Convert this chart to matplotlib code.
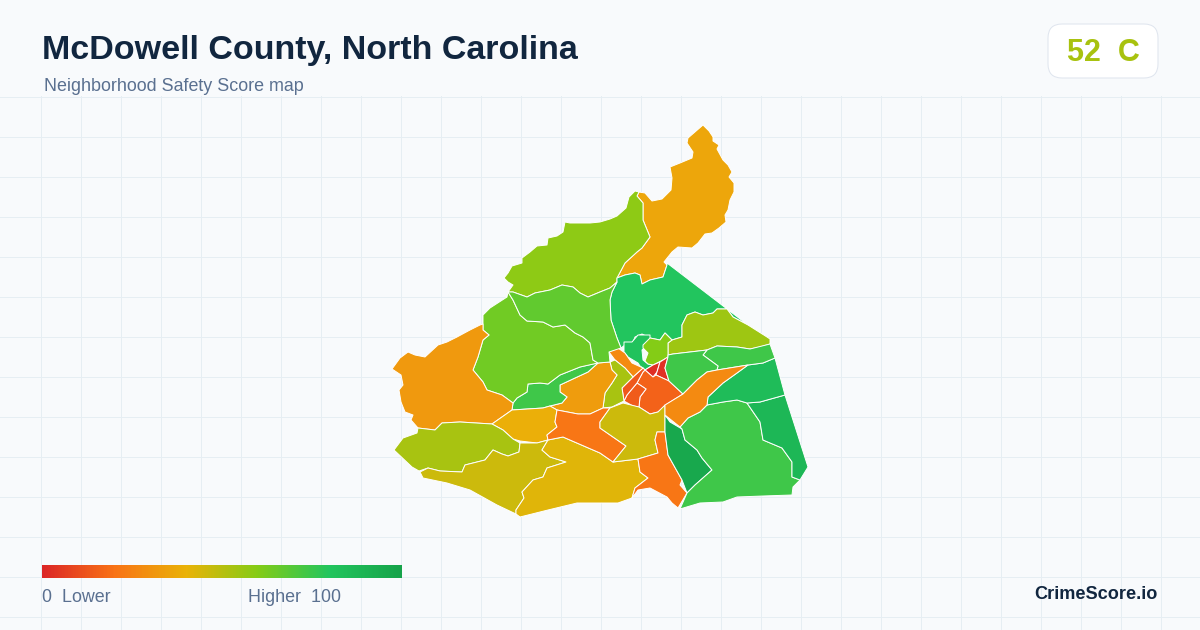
import matplotlib
matplotlib.use("Agg")
import numpy as np
import matplotlib.pyplot as plt
from matplotlib.colors import LinearSegmentedColormap
from matplotlib.patches import Polygon, FancyBboxPatch

plt.rcParams['font.family'] = ['Liberation Sans', 'DejaVu Sans']

title = "McDowell County, North Carolina"
subtitle = "Neighborhood Safety Score map"
badge = "52  C"
brand = "CrimeScore.io"
legend_low = "0  Lower"
legend_high = "Higher  100"

ramp = ["#dc2626", "#f97316", "#eab308", "#84cc16", "#22c55e", "#16a34a"]

# tract outlines (pixel coords) + score per tract
ne_lobe = [(703,125),(709,131),(713,137),(713,141),(719,145),(717,149),(723,160),(728,165),(732,172),(729,177),(734,183),(734,192),(730,200),(728,210),(725,215),(726,222),(719,228),(712,233),(705,234),(698,243),(692,248),(678,247),(672,252),(664,262),(667,265),(663,277),(650,280),(642,284),(640,275),(635,273),(625,275),(617,278),(625,263),(637,252),(642,248),(650,237),(643,220),(643,203),(637,196),(639,192),(645,193),(652,201),(662,199),(671,190),(672,178),(670,167),(680,163),(692,158),(693,152),(687,143),(688,138)]
nw_ridge = [(639,192),(635,191),(629,197),(626,208),(617,216),(610,219),(600,222),(590,223),(580,223),(570,223),(565,222),(563,232),(557,236),(548,238),(547,245),(537,246),(530,252),(522,258),(522,263),(512,266),(508,273),(504,278),(508,282),(513,285),(508,292),(513,292),(527,297),(535,293),(550,290),(562,285),(573,287),(580,293),(588,297),(600,292),(610,288),(617,282),(617,278),(625,263),(637,252),(642,248),(650,237),(643,220),(643,203),(637,196)]
north_central = [(617,278),(625,275),(635,273),(640,275),(642,284),(650,280),(663,277),(667,265),(667,263),(748,325),(733,317),(727,309),(717,309),(713,313),(703,315),(695,312),(687,315),(682,325),(682,337),(672,340),(665,333),(660,340),(650,338),(642,334),(635,337),(633,342),(625,345),(621,348),(617,338),(611,320),(610,300),(612,292),(617,282)]
ne_wedge = [(770,339),(770,344),(760,347),(750,349),(737,347),(717,346),(707,350),(690,352),(673,354),(668,355),(668,343),(672,340),(682,337),(682,325),(687,315),(695,312),(703,315),(713,313),(717,309),(727,309),(733,317),(748,325),(767,337)]
teal_small = [(624,342),(632,342),(638,335),(650,335),(650,342),(642,350),(643,360),(648,364),(653,365),(645,370),(643,368),(640,366),(638,363),(628,357),(624,352)]
lime_small = [(643,345),(650,338),(660,340),(665,333),(672,340),(668,343),(668,357),(663,360),(653,365),(648,364),(645,361),(648,353),(643,348)]
red_west = [(645,370),(653,365),(660,362),(657,372),(653,377)]
red_east = [(660,362),(668,357),(665,368),(669,381),(656,375),(657,372)]
core_east = [(637,383),(643,372),(645,370),(653,377),(656,375),(669,381),(683,394),(667,404),(658,412),(650,414),(639,407),(640,397),(646,389)]
core_south = [(624,401),(627,395),(637,383),(646,389),(640,397),(639,407),(633,406)]
core_west = [(622,388),(633,377),(643,368),(645,370),(643,372),(637,383),(627,395),(624,401)]
core_north = [(609,352),(618,348),(625,353),(632,363),(643,368),(633,377),(625,368),(615,360)]
core_lime = [(610,362),(615,360),(625,368),(633,377),(622,388),(624,401),(612,407),(603,408),(605,393),(612,383),(617,375),(612,370)]
mid_orange = [(560,385),(575,378),(588,372),(598,363),(610,362),(612,370),(617,375),(612,383),(605,393),(603,408),(590,414),(578,414),(557,410),(550,406),(562,403),(567,397),(560,392)]
mid_green = [(513,403),(517,398),(527,392),(528,384),(540,383),(548,384),(560,375),(580,367),(597,363),(598,363),(588,372),(575,378),(560,385),(560,392),(567,397),(562,403),(550,406),(543,408),(512,410)]
west_green = [(508,292),(513,300),(520,315),(527,321),(543,322),(553,327),(565,325),(575,333),(583,337),(590,343),(593,360),(598,363),(580,367),(560,375),(548,384),(540,383),(528,384),(527,392),(517,398),(513,403),(502,395),(487,390),(483,382),(473,370),(478,357),(483,340),(489,335),(483,330),(483,315),(490,308),(507,297)]
upper_green = [(508,292),(513,292),(527,297),(535,293),(550,290),(562,285),(573,287),(580,293),(588,297),(600,292),(610,288),(617,282),(612,292),(610,300),(611,320),(617,338),(621,348),(609,352),(610,362),(598,363),(593,360),(590,343),(583,337),(575,333),(565,325),(553,327),(543,322),(527,321),(520,315),(513,300)]
west_orange = [(483,324),(480,325),(470,330),(457,337),(447,342),(438,345),(425,357),(415,355),(408,352),(400,358),(392,369),(401,375),(403,385),(399,390),(401,402),(405,412),(413,415),(411,420),(418,428),(435,430),(442,423),(460,422),(492,424),(512,410),(513,403),(502,395),(487,390),(483,382),(473,370),(478,357),(483,340),(489,335),(483,330)]
south_yellow = [(492,424),(512,410),(543,408),(550,406),(557,410),(555,422),(557,427),(547,435),(548,440),(537,443),(520,441),(513,439),(503,430)]
sw_olive = [(418,428),(435,430),(442,423),(460,422),(492,424),(503,430),(513,439),(520,443),(519,452),(508,456),(502,454),(493,450),(485,460),(465,465),(462,472),(440,471),(428,468),(419,471),(412,467),(394,450),(403,438),(417,433)]
sw_mustard = [(420,472),(428,468),(440,471),(462,472),(465,465),(485,460),(493,450),(502,454),(508,456),(519,452),(520,443),(537,443),(548,440),(542,450),(550,457),(566,462),(547,468),(543,477),(533,480),(522,492),(524,498),(516,510),(516,514),(497,505),(470,490),(447,483),(423,478)]
south_gold = [(516,514),(520,517),(548,510),(577,503),(600,503),(618,503),(632,498),(635,488),(648,478),(640,472),(638,459),(613,462),(600,453),(563,437),(548,440),(542,450),(550,457),(566,462),(547,468),(543,477),(533,480),(522,492),(524,498),(516,510)]
mid_south_orange = [(548,440),(547,435),(557,427),(555,422),(557,410),(578,414),(590,414),(603,408),(610,408),(600,422),(600,428),(626,446),(613,462),(600,453),(563,437)]
center_olive = [(600,422),(610,408),(623,403),(639,407),(650,414),(658,412),(665,405),(665,432),(657,432),(655,440),(658,453),(638,459),(613,462),(626,446),(600,428)]
south_orange = [(657,432),(665,432),(668,455),(682,480),(680,485),(687,493),(678,508),(672,503),(667,497),(650,488),(638,490),(632,498),(635,488),(648,478),(640,472),(638,459),(658,453),(655,440)]
dark_green = [(665,415),(670,422),(682,429),(685,440),(697,450),(702,458),(712,470),(695,485),(687,493),(682,480),(668,455),(665,432)]
se_big = [(680,509),(687,493),(695,485),(712,470),(702,458),(697,450),(685,440),(682,429),(680,427),(688,418),(700,412),(707,405),(723,402),(737,400),(747,403),(760,422),(763,440),(782,448),(792,462),(792,477),(800,480),(793,487),(792,495),(763,496),(737,497),(723,502),(700,503)]
se_edge = [(747,403),(760,402),(785,395),(808,467),(800,480),(792,477),(792,462),(782,448),(763,440),(760,422)]
east_teal = [(707,405),(708,397),(723,383),(737,373),(748,365),(763,363),(775,358),(785,395),(760,402),(747,403),(737,400),(723,402)]
east_green = [(703,355),(707,350),(717,346),(737,347),(750,349),(770,344),(775,358),(763,363),(748,365),(717,370),(718,366)]
center_green = [(668,355),(673,354),(690,352),(707,350),(703,355),(718,366),(717,370),(707,372),(697,380),(683,394),(669,381),(665,368),(668,357)]
corridor = [(665,405),(683,394),(697,380),(707,372),(717,370),(748,365),(737,373),(723,383),(708,397),(707,405),(700,412),(688,418),(680,427),(665,415)]

tracts = [ne_lobe, nw_ridge, north_central, ne_wedge, teal_small, lime_small, red_west, red_east,
          core_east, core_south, core_west, core_north, core_lime, mid_orange, mid_green, west_green,
          upper_green, west_orange, south_yellow, sw_olive, sw_mustard, south_gold, mid_south_orange,
          center_olive, south_orange, dark_green, se_big, se_edge, east_teal, east_green, center_green,
          corridor]
scores = [36, 58, 80, 55, 82, 60, 2, 3,
          16, 14, 13, 27, 53, 33, 74, 64,
          67, 32, 39, 53, 46, 42, 21,
          46, 21, 97, 74, 88, 85, 74, 74,
          27]

cmap = LinearSegmentedColormap.from_list("score", ramp)

fig = plt.figure(figsize=(12, 6.3), dpi=100)
ax = fig.add_axes([0, 0, 1, 1])
ax.set_xlim(0, 1200)
ax.set_ylim(630, 0)
ax.axis("off")
fig.patch.set_facecolor("#f8fafc")

# background grid, starts under the header
for x in range(40, 1200, 40):
    ax.plot([x + 0.5, x + 0.5], [96, 630], color="#e6eef3", lw=0.72, zorder=1)
for y in range(96, 630, 40):
    ax.plot([0, 1200], [y + 0.5, y + 0.5], color="#e6eef3", lw=0.72, zorder=1)

for pts, s in zip(tracts, scores):
    ax.add_patch(Polygon(pts, closed=True, facecolor=cmap(s / 100), edgecolor="white",
                         lw=0.7, joinstyle="round", zorder=3))

ax.text(42, 59, title, fontsize=24.5, fontweight="bold", color="#11263f", zorder=5)
ax.text(44, 91, subtitle, fontsize=12.9, color="#5a7090", zorder=5)

ax.add_patch(FancyBboxPatch((1062, 38), 82, 26, boxstyle="round,pad=14,rounding_size=14",
                            facecolor="white", edgecolor="#dfe5ee", lw=0.72, zorder=4))
ax.text(1103, 61, badge, fontsize=22, fontweight="bold", color="#a8c20f", ha="center", zorder=5)

grad = np.linspace(0, 1, 360).reshape(1, -1)
ax.imshow(grad, cmap=cmap, extent=(42, 402, 578, 565), aspect="auto", zorder=4)
ax.set_xlim(0, 1200)
ax.set_ylim(630, 0)

ax.text(42, 602, legend_low, fontsize=12.9, color="#5a7090", zorder=5)
ax.text(341, 602, legend_high, fontsize=12.9, color="#5a7090", ha="right", zorder=5)
ax.text(1158, 599, brand, fontsize=13.1, fontweight="bold", color="#11263f", ha="right", zorder=5)

fig.savefig("out.png", dpi=100, facecolor=fig.get_facecolor())
